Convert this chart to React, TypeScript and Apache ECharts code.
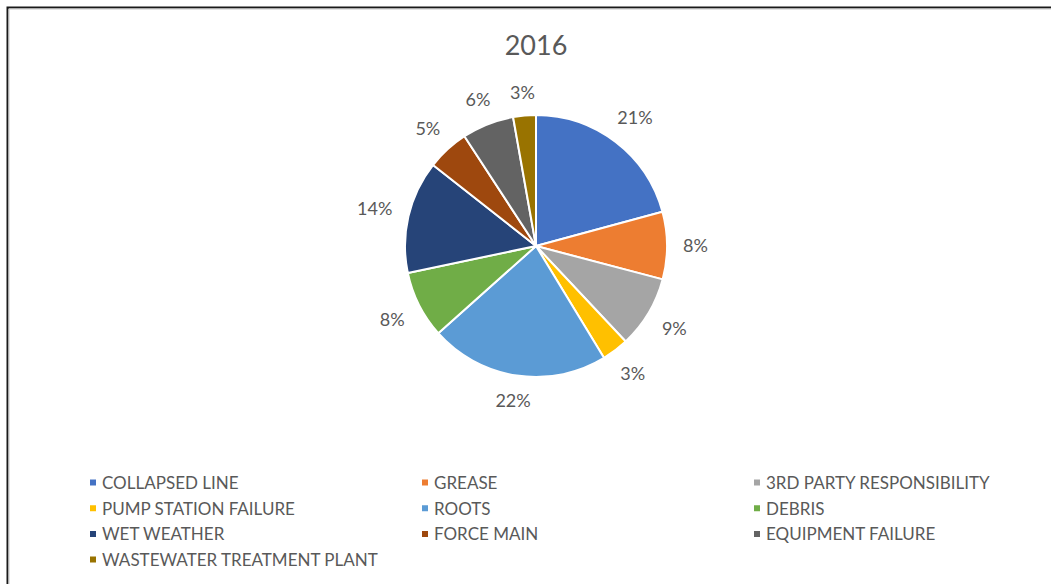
import React, { useEffect, useRef } from "react";
import * as echarts from "echarts";

const titleText = "2016";
const categories = [
  "COLLAPSED LINE",
  "GREASE",
  "3RD PARTY RESPONSIBILITY",
  "PUMP STATION FAILURE",
  "ROOTS",
  "DEBRIS",
  "WET WEATHER",
  "FORCE MAIN",
  "EQUIPMENT FAILURE",
  "WASTEWATER TREATMENT PLANT",
];
const values = [20.8, 8.3, 8.9, 3.3, 22.1, 8.3, 13.9, 5.2, 6.4, 2.8];
const colors = [
  "#4472C4",
  "#ED7D31",
  "#A5A5A5",
  "#FFC000",
  "#5B9BD5",
  "#70AD47",
  "#264478",
  "#9E480E",
  "#636363",
  "#997300",
];
const legendColumns = [
  ["COLLAPSED LINE", "PUMP STATION FAILURE", "WET WEATHER", "WASTEWATER TREATMENT PLANT"],
  ["GREASE", "ROOTS", "FORCE MAIN"],
  ["3RD PARTY RESPONSIBILITY", "DEBRIS", "EQUIPMENT FAILURE"],
];
const legendLefts = [88, 420, 752];

const FONT = "Lato";
const TEXT = "#595959";
const CX = 536;
const CY = 246;
const R = 131;
const LABEL_GAP = 16;
const LABEL_SIZE = 18;

export default function App() {
  const ref = useRef<HTMLDivElement>(null);
  useEffect(() => {
    if (!ref.current) return;
    const chart = echarts.init(ref.current, undefined, { renderer: "svg" });
    const total = values.reduce((a, b) => a + b, 0);
    const mids: number[] = [];
    let acc = 0;
    values.forEach((v) => {
      mids.push((acc + v / 2) / total);
      acc += v;
    });
    chart.setOption({
      animation: false,
      color: colors,
      title: {
        text: titleText,
        left: CX,
        top: 31,
        textAlign: "center",
        padding: 0,
        textStyle: { fontFamily: FONT, fontSize: 27, fontWeight: "normal", color: TEXT },
      },
      legend: legendColumns.map((col, i) => ({
        data: col,
        orient: "vertical",
        left: legendLefts[i],
        top: 474,
        padding: 0,
        itemWidth: 8,
        itemHeight: 8,
        itemGap: 8.7,
        icon: "rect",
        selectedMode: false,
        textStyle: { fontFamily: FONT, fontSize: 17, color: TEXT },
      })),
      graphic: [
        {
          type: "polyline",
          shape: { points: [[7.5, 584], [7.5, 7.5], [1051, 7.5]] },
          style: { stroke: "#1a1a1a", lineWidth: 2, fill: null },
          silent: true,
        },
        {
          type: "polyline",
          shape: { points: [[9, 584], [9, 9], [1051, 9]] },
          style: { stroke: "#c8c8c8", lineWidth: 1, fill: null },
          silent: true,
        },
      ],
      series: [
        {
          type: "pie",
          center: [CX, CY],
          radius: R,
          startAngle: 90,
          clockwise: true,
          avoidLabelOverlap: false,
          itemStyle: { borderColor: "#ffffff", borderWidth: 2 },
          label: {
            show: true,
            position: "outside",
            formatter: (p: any) => Math.round(p.percent) + "%",
            fontFamily: FONT,
            fontSize: LABEL_SIZE,
            color: TEXT,
          },
          labelLine: { show: false, length: 18, length2: 0 },
          labelLayout: (p: any) => {
            const a = mids[p.dataIndex] * Math.PI * 2;
            const ux = Math.sin(a);
            const uy = -Math.cos(a);
            const w = p.labelRect.width;
            const h = LABEL_SIZE * 0.72;
            const d = R + LABEL_GAP + (w / 2) * Math.abs(ux) + (h / 2) * Math.abs(uy);
            return {
              x: CX + d * ux,
              y: CY + d * uy,
              align: "center",
              verticalAlign: "middle",
            };
          },
          data: categories.map((name, i) => ({ name, value: values[i] })),
        },
      ],
    });
    return () => chart.dispose();
  }, []);
  return (
    <div
      ref={ref}
      style={{ position: "fixed", left: 0, top: 0, width: 1051, height: 584, background: "#fff" }}
    />
  );
}
